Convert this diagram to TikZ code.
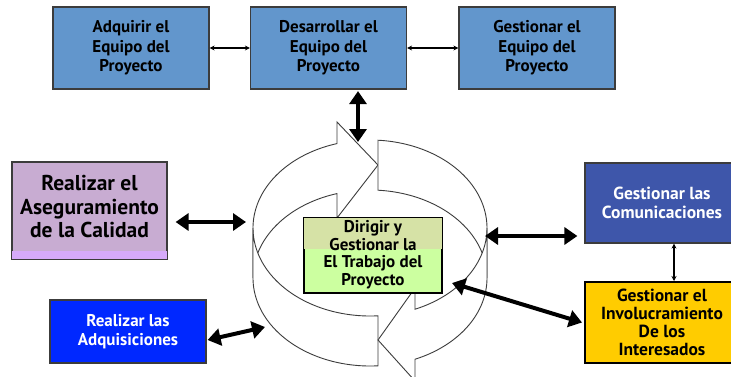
\documentclass[tikz,border=0pt]{standalone}
\usepackage{fontspec}
\setmainfont{PT Sans}
\usetikzlibrary{arrows.meta}

\definecolor{teamblue}{RGB}{98,150,204}
\definecolor{qualpurple}{RGB}{200,172,210}
\definecolor{qualband}{RGB}{214,170,250}
\definecolor{procblue}{RGB}{0,40,255}
\definecolor{commblue}{RGB}{62,86,170}
\definecolor{stakeyellow}{RGB}{255,204,0}
\definecolor{workgreen}{RGB}{204,255,160}
\definecolor{workolive}{RGB}{214,226,166}
\definecolor{edgegray}{RGB}{60,60,60}

\tikzset{
  box/.style={draw=edgegray, line width=1.2pt, align=center, inner sep=0pt,
    font=\fontsize{17}{19.5}\selectfont\bfseries},
  teambox/.style={box, fill=teamblue, minimum width=156pt, minimum height=82pt},
  ringpiece/.style={draw=edgegray, fill=white, line width=0.9pt, line join=miter},
  bigarrow/.style={line width=4pt,
    {Triangle[length=13pt,width=17pt]}-{Triangle[length=13pt,width=17pt]}},
  smallarrow/.style={line width=1.3pt,
    {Stealth[length=5pt,width=5pt]}-{Stealth[length=5pt,width=5pt]}},
}

\begin{document}
\begin{tikzpicture}[x=1pt,y=-1pt]
\useasboundingbox (0,0) rectangle (731,376);
\clip (0,0) rectangle (731,376);
\fill[white] (0,0) rectangle (731,376);

% team processes along the top
\node[teambox] (acq) at (131,48) {Adquirir el\\Equipo del\\Proyecto};
\node[teambox] (dev) at (328.5,48) {Desarrollar el\\Equipo del\\Proyecto};
\node[teambox] (man) at (537,48) {Gestionar el\\Equipo del\\Proyecto};

% quality assurance, with its lighter strip at the bottom
\node[box, fill=qualpurple, minimum width=155pt, minimum height=97pt] (qa) at (89.5,210.5) {};
\fill[qualband] ([xshift=0.6pt,yshift=0.6pt]qa.south west) rectangle ([xshift=-0.6pt,yshift=9pt]qa.south east);
\draw[edgegray, line width=1.2pt] (qa.south west) rectangle (qa.north east);
\node[align=center, font=\fontsize{21.5}{23.5}\selectfont\bfseries] at ([yshift=4pt]qa.center)
  {Realizar el\\Aseguramiento\\de la Calidad};

% procurement
\node[box, fill=procblue, text=white, minimum width=156pt, minimum height=63pt,
  font=\fontsize{17}{19}\selectfont\bfseries] (proc) at (128,331.5)
  {Realizar las\\Adquisiciones};

% communications and stakeholders
\node[box, fill=commblue, text=white, minimum width=154pt, minimum height=80pt,
  font=\fontsize{17.5}{18.5}\selectfont\bfseries] (comm) at (662,203)
  {Gestionar las\\Comunicaciones};
\node[box, draw=black, line width=2pt, fill=stakeyellow, minimum width=154pt, minimum height=81pt,
  font=\fontsize{17.5}{18}\selectfont\bfseries] (stake) at (662,322.5)
  {Gestionar el\\Involucramiento\\De los\\Interesados};

% circular ribbon of two arrows (top edge centred at y=228, bottom edge at y=278)
% back wall: head of the first arrow, tail of the second
\draw[ringpiece]
  plot[domain=180:106.4,samples=50] ({370+117*cos(\x)},{228-88*sin(\x)})
  -- (337,122) -- (378,165) -- (337,218)
  -- plot[domain=106.4:180,samples=50] ({370+117*cos(\x)},{278-88*sin(\x)})
  -- cycle;
\draw[ringpiece]
  plot[domain=86.1:0,samples=50] ({370+117*cos(\x)},{228-88*sin(\x)})
  -- plot[domain=0:86.1,samples=50] ({370+117*cos(\x)},{278-88*sin(\x)})
  -- cycle;
% front wall: tail of the first arrow, head of the second
\draw[ringpiece]
  plot[domain=180:273.9,samples=50] ({370+117*cos(\x)},{228-88*sin(\x)})
  -- plot[domain=273.9:180,samples=50] ({370+117*cos(\x)},{278-88*sin(\x)})
  -- cycle;
\draw[ringpiece]
  plot[domain=360:292.6,samples=50] ({370+117*cos(\x)},{228-88*sin(\x)})
  -- (415,288) -- (378,340) -- (415,381)
  -- plot[domain=292.6:360,samples=50] ({370+117*cos(\x)},{278-88*sin(\x)})
  -- cycle;

% central process, olive above and light green below
\node[box, draw=black, fill=workgreen, minimum width=138pt, minimum height=75pt] (work) at (373,255.5) {};
\fill[workolive] ([xshift=0.6pt,yshift=-0.6pt]work.north west) rectangle ([xshift=-0.6pt,yshift=-32pt]work.north east);
\draw[black, line width=1.2pt] (work.south west) rectangle (work.north east);
\node[align=center, font=\fontsize{17}{17.5}\selectfont\bfseries] at ([yshift=1pt]work.center)
  {Dirigir y\\Gestionar la\\El Trabajo del\\Proyecto};

% connector end points on the ribbon
\coordinate (ringtop) at (358,142);
\coordinate (ringleft) at (246,222);
\coordinate (ringlow) at (265,327);
\coordinate (ringright) at (485,236);
\coordinate (workright) at (452,283);

% connectors
\draw[smallarrow] (acq.east) -- (dev.west);
\draw[smallarrow] (dev.east) -- (man.west);
\draw[bigarrow] (dev.south -| ringtop) ++(0,1.5) -- (ringtop);
\draw[bigarrow] ([xshift=8pt]qa.east |- ringleft) -- (ringleft);
\draw[bigarrow] ([xshift=1pt,yshift=-8.5pt]proc.east) -- (ringlow);
\draw[bigarrow] (ringright) -- ([xshift=-7pt]comm.west |- ringright);
\draw[bigarrow] (workright) -- ([xshift=-2pt]stake.west);
\draw[smallarrow] ([xshift=12pt]comm.south) -- ([xshift=12pt]stake.north);
\end{tikzpicture}
\end{document}
